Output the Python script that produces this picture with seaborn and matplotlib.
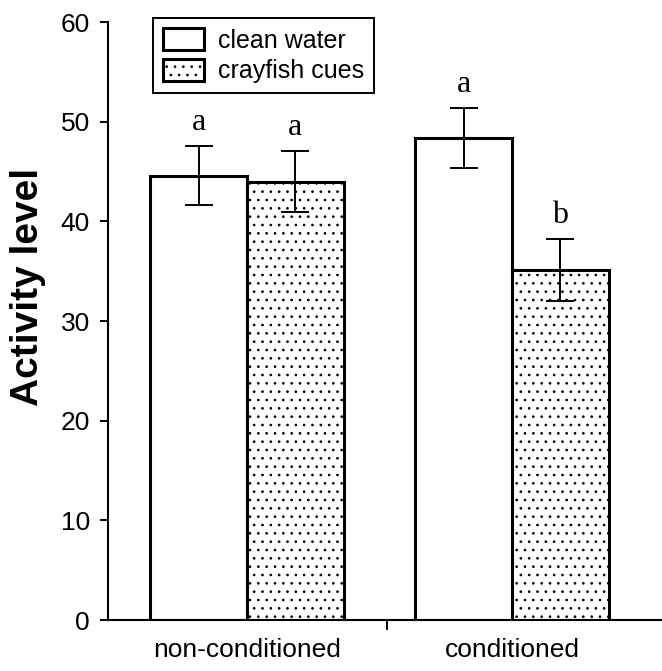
import numpy as np
import pandas as pd
import seaborn as sns
from matplotlib import pyplot as plt
from matplotlib.patches import Patch

# values
groups = ["non-conditioned", "conditioned"]
treatments = ["clean water", "crayfish cues"]
means = [44.6, 44.0, 48.4, 35.1]
sems = [3.0, 3.1, 3.0, 3.1]
letters = ["a", "a", "a", "b"]

df = pd.DataFrame({
    "group": np.repeat(groups, 2),
    "treatment": treatments * 2,
    "activity": means,
    "sem": sems,
    "letter": letters,
})

sns.set_style("ticks")
plt.rcParams['font.family'] = ['Liberation Sans', 'DejaVu Sans']
plt.rcParams['hatch.color'] = '0.3'
plt.rcParams['hatch.linewidth'] = 0.7
for k in ['text.color', 'axes.labelcolor', 'xtick.color', 'ytick.color', 'axes.edgecolor']:
    plt.rcParams[k] = 'black'

fig = plt.figure(figsize=(6.62, 6.71), dpi=100)
ax = fig.add_axes([0.163, 0.076, 0.837, 0.891])

sns.barplot(data=df, x="group", y="activity", hue="treatment",
            order=groups, hue_order=treatments, palette=["white", "white"],
            edgecolor="black", linewidth=2.2, width=0.73, errorbar=None,
            legend=False, ax=ax)

bars = list(ax.containers)

# dotted fill for crayfish cues bars
for p in bars[1]:
    p.set_hatch('..')

# error bars and significance letters
for ci, cont in enumerate(bars):
    sub = df[df["treatment"] == treatments[ci]].set_index("group").loc[groups]
    xs = [p.get_x() + p.get_width() / 2 for p in cont]
    ax.errorbar(xs, sub["activity"], yerr=sub["sem"], fmt="none",
                ecolor="black", elinewidth=1.4, capsize=10, capthick=1.4)
    for x, y, e, lab in zip(xs, sub["activity"], sub["sem"], sub["letter"]):
        ax.text(x, y + e + 0.9, lab, ha="center", va="bottom",
                fontsize=23, family=["Liberation Serif", "DejaVu Serif"])

ax.set_ylim(0, 60)
ax.set_xlim(-0.525, 1.566)
ax.set_yticks(range(0, 61, 10))
ax.set_ylabel("Activity level", fontsize=28, fontweight="bold")
ax.yaxis.set_label_coords(-0.112, 0.557)
ax.set_xlabel("")
ax.tick_params(axis="y", labelsize=19, length=6, width=1.4, direction="out", pad=7)
ax.tick_params(axis="x", which="major", labelsize=19, length=0, pad=13)
ax.set_xticks([0.53], minor=True)
ax.tick_params(axis="x", which="minor", length=7, width=1.4, direction="out")

sns.despine(ax=ax)
for s in ["left", "bottom"]:
    ax.spines[s].set_linewidth(1.5)

handles = [Patch(facecolor="white", edgecolor="black", linewidth=2.2),
           Patch(facecolor="white", edgecolor="black", linewidth=2.2, hatch='..')]
leg = ax.legend(handles, treatments, loc="upper left", bbox_to_anchor=(0.081, 1.007),
                borderaxespad=0, fontsize=18, handlelength=1.64, handleheight=1.0,
                labelspacing=0.24, handletextpad=0.56, borderpad=0.4,
                fancybox=False, framealpha=1)
leg.get_frame().set_edgecolor("black")
leg.get_frame().set_linewidth(1.4)

fig.savefig("out.png", dpi=100)
